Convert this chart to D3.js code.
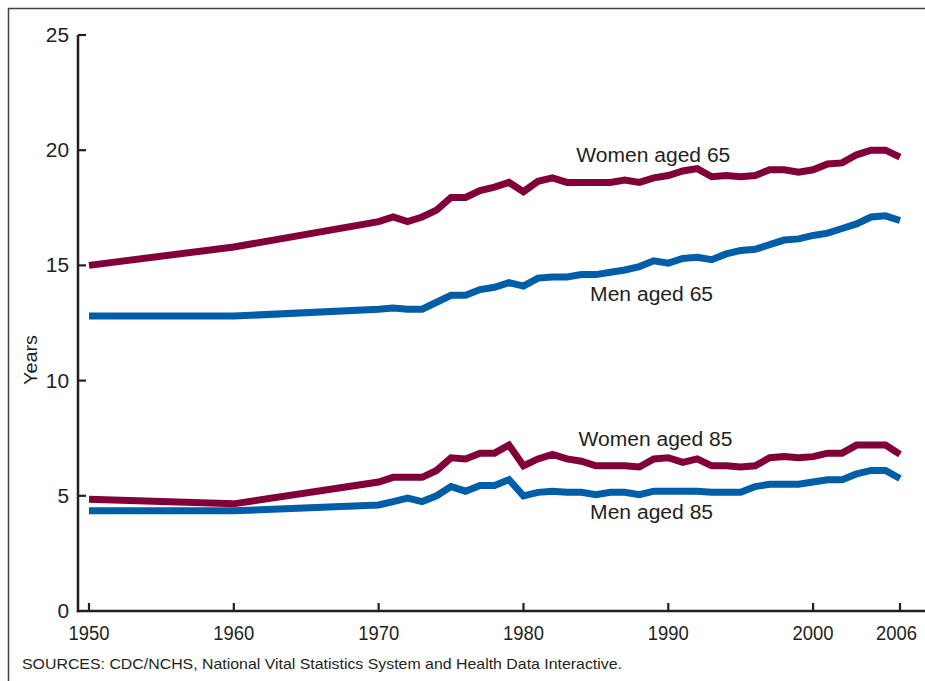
<!DOCTYPE html>
<html><head><meta charset="utf-8">
<script src="https://cdn.jsdelivr.net/npm/d3@7"></script>
<style>body{margin:0;background:#fff}svg{display:block}text{font-family:"Liberation Sans",Arial,sans-serif;fill:#231f20}</style>
</head><body><svg id="c" width="925" height="681"></svg>
<script>
const years = [1950,1960,1970,1971,1972,1973,1974,1975,1976,1977,1978,1979,1980,1981,1982,1983,1984,1985,1986,1987,1988,1989,1990,1991,1992,1993,1994,1995,1996,1997,1998,1999,2000,2001,2002,2003,2004,2005,2006];
const women65 = [15.0,15.8,16.9,17.1,16.9,17.1,17.4,17.95,17.95,18.25,18.4,18.6,18.2,18.65,18.8,18.6,18.6,18.6,18.6,18.7,18.6,18.8,18.9,19.1,19.2,18.85,18.9,18.85,18.9,19.15,19.15,19.05,19.15,19.4,19.45,19.8,20.0,20.0,19.7];
const men65 = [12.8,12.8,13.1,13.15,13.1,13.1,13.4,13.7,13.7,13.95,14.05,14.25,14.1,14.45,14.5,14.5,14.6,14.6,14.7,14.8,14.95,15.2,15.1,15.3,15.35,15.25,15.5,15.65,15.7,15.9,16.1,16.15,16.3,16.4,16.6,16.8,17.1,17.15,16.95];
const women85 = [4.85,4.65,5.6,5.8,5.8,5.8,6.1,6.65,6.6,6.85,6.85,7.2,6.3,6.6,6.8,6.6,6.5,6.3,6.3,6.3,6.25,6.6,6.65,6.45,6.6,6.3,6.3,6.25,6.3,6.65,6.7,6.65,6.7,6.85,6.85,7.2,7.2,7.2,6.8];
const men85 = [4.35,4.35,4.6,4.75,4.9,4.75,5.0,5.4,5.2,5.45,5.45,5.7,5.0,5.15,5.2,5.15,5.15,5.05,5.15,5.15,5.05,5.2,5.2,5.2,5.2,5.15,5.15,5.15,5.4,5.5,5.5,5.5,5.6,5.7,5.7,5.95,6.1,6.1,5.75];
const xTicks = [1950,1960,1970,1980,1990,2000,2006];
const yTicks = [0,5,10,15,20,25];
const seriesNames = ["Women aged 65","Men aged 65","Women aged 85","Men aged 85"];
const COLORS = {women:"#800037", men:"#005ea8"};

const svg = d3.select("#c");
svg.append("rect").attr("x",8.5).attr("y",8.5).attr("width",940).attr("height",700)
  .attr("fill","none").attr("stroke","#444").attr("stroke-width",1.5);

const x = d3.scaleLinear().domain([1950,2006]).range([89,900]);
const y = d3.scaleLinear().domain([0,25]).range([611,35]);

const axisColor = "#231f20";
svg.append("line").attr("x1",78).attr("x2",78).attr("y1",y(25)).attr("y2",y(0)+1.2)
  .attr("stroke",axisColor).attr("stroke-width",2.5);
svg.append("line").attr("x1",76.8).attr("x2",930).attr("y1",y(0)).attr("y2",y(0))
  .attr("stroke",axisColor).attr("stroke-width",2.5);
yTicks.forEach(t=>{
  if(t>0) svg.append("line").attr("x1",78).attr("x2",86).attr("y1",y(t)).attr("y2",y(t))
    .attr("stroke",axisColor).attr("stroke-width",2.2);
  const s = String(t);
  svg.append("text").attr("x",69).attr("y",y(t)+7).attr("text-anchor","end")
    .attr("font-size",20).attr("textLength",s.length*11.6).attr("lengthAdjust","spacingAndGlyphs").text(s);
});
xTicks.forEach(t=>{
  svg.append("line").attr("x1",x(t)).attr("x2",x(t)).attr("y1",y(0)).attr("y2",y(0)-8)
    .attr("stroke",axisColor).attr("stroke-width",2.2);
  const last = t===2006;
  svg.append("text").attr("x",last?917:x(t)).attr("y",y(0)+29).attr("text-anchor",last?"end":"middle")
    .attr("font-size",20).attr("textLength",41).attr("lengthAdjust","spacingAndGlyphs").text(t);
});
svg.append("text").attr("transform",`translate(37,${y(12.5)+37}) rotate(-90)`).attr("text-anchor","middle")
  .attr("font-size",18).attr("textLength",50).attr("lengthAdjust","spacingAndGlyphs").text("Years");

const line = d3.line().x((d,i)=>x(years[i])).y(d=>y(d));
const series = [
  {vals:women65,col:COLORS.women},
  {vals:men65,col:COLORS.men},
  {vals:women85,col:COLORS.women},
  {vals:men85,col:COLORS.men}
];
series.forEach(s=>{
  svg.append("path").datum(s.vals).attr("d",line).attr("fill","none")
    .attr("stroke",s.col).attr("stroke-width",7).attr("stroke-linejoin","miter").attr("stroke-miterlimit",2);
});

const ann = [
  {t:seriesNames[0], yr:1983.65, v:19.5, w:154},
  {t:seriesNames[1], yr:1984.6, v:13.45, w:123},
  {t:seriesNames[2], yr:1983.8, v:7.17, w:154},
  {t:seriesNames[3], yr:1984.6, v:4.0, w:123}
];
ann.forEach(a=>{
  svg.append("text").attr("x",x(a.yr)).attr("y",y(a.v)).attr("font-size",20)
    .attr("textLength",a.w).attr("lengthAdjust","spacingAndGlyphs").text(a.t);
});

svg.append("text").attr("x",22).attr("y",669).attr("font-size",14.5)
  .attr("textLength",600).attr("lengthAdjust","spacingAndGlyphs")
  .text("SOURCES: CDC/NCHS, National Vital Statistics System and Health Data Interactive.");
</script></body></html>
